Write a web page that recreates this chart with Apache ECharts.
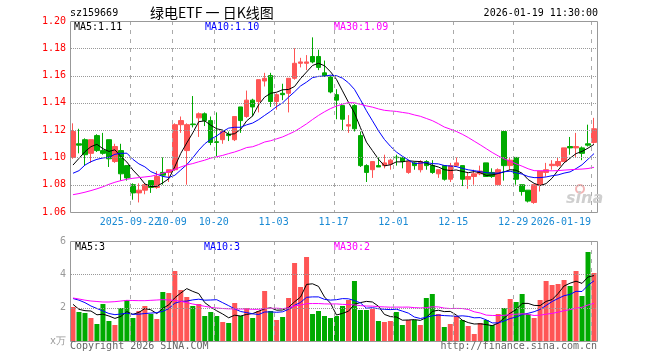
<!DOCTYPE html>
<html>
<head>
<meta charset="utf-8">
<script src="https://cdn.jsdelivr.net/npm/echarts@6/dist/echarts.min.js"></script>
<style>html,body{margin:0;padding:0;background:#fff}#c{width:660px;height:360px}</style>
</head>
<body>
<div id="c"></div>
<script>
// ---- categories (trading days) ----
const dates = [].concat(
  ['08','09','10','11','12','15','16','17','18','19','22','23','24','25','26','29','30'].map(d => '2025-09-' + d),
  ['09','10','13','14','15','16','17','20','21','22','23','24','27','28','29','30','31'].map(d => '2025-10-' + d),
  ['03','04','05','06','07','10','11','12','13','14','17','18','19','20','21','24','25','26','27','28'].map(d => '2025-11-' + d),
  ['01','02','03','04','05','08','09','10','11','12','15','16','17','18','19','22','23','24','25','26','29','30','31'].map(d => '2025-12-' + d),
  ['05','06','07','08','09','12','13','14','15','16','19'].map(d => '2026-01-' + d)
);
const tickDates = ['2025-09-22','2025-10-09','2025-10-20','2025-11-03','2025-11-17','2025-12-01','2025-12-15','2025-12-29','2026-01-19'];
const tickLabels = ['2025-09-22','10-09','10-20','11-03','11-17','12-01','12-15','12-29','2026-01-19'];
const priceGridTicks = [1.08, 1.10, 1.12, 1.14, 1.16, 1.18];
const volGridTicks = [2, 4];

// ---- price series ----
const opens = [1.100,1.110,1.113,1.103,1.116,1.105,1.113,1.097,1.105,1.094,
  1.080,1.074,1.076,1.083,1.078,1.089,1.089,1.091,1.124,1.105,
  1.1245,1.129,1.132,1.127,1.1115,1.113,1.117,1.113,1.137,1.130,
  1.142,1.141,1.156,1.160,1.141,1.147,1.147,1.158,1.169,1.169,
  1.174,1.174,1.162,1.159,1.146,1.138,1.123,1.138,1.116,1.094,
  1.091,1.094,1.094,1.095,1.1002,1.100,1.089,1.096,1.091,1.097,
  1.094,1.088,1.094,1.084,1.094,1.094,1.084,1.086,1.088,1.096,
  1.089,1.080,1.119,1.094,1.100,1.080,1.076,1.067,1.080,1.089,
  1.094,1.094,1.097,1.108,1.107,1.107,1.110,1.111];
const closes = [1.119,1.109,1.102,1.113,1.105,1.103,1.099,1.108,1.088,1.085,
  1.074,1.076,1.080,1.078,1.086,1.087,1.091,1.124,1.127,1.124,
  1.124,1.132,1.127,1.111,1.111,1.119,1.116,1.130,1.127,1.142,
  1.137,1.157,1.158,1.141,1.146,1.146,1.158,1.169,1.170,1.170,
  1.170,1.166,1.160,1.148,1.142,1.128,1.124,1.121,1.094,1.089,
  1.097,1.093,1.096,1.098,1.0998,1.097,1.097,1.094,1.097,1.094,
  1.089,1.091,1.084,1.094,1.096,1.084,1.086,1.088,1.090,1.086,
  1.086,1.091,1.094,1.098,1.084,1.075,1.068,1.080,1.090,1.091,
  1.095,1.097,1.107,1.107,1.108,1.103,1.109,1.121];
const lows = [1.099,1.103,1.094,1.096,1.104,1.102,1.093,1.096,1.083,1.083,
  1.069,1.067,1.073,1.074,1.077,1.080,1.082,1.090,1.118,1.080,
  1.122,1.115,1.123,1.109,1.101,1.110,1.112,1.112,1.118,1.129,
  1.130,1.133,1.152,1.137,1.135,1.142,1.133,1.157,1.166,1.164,
  1.169,1.164,1.159,1.147,1.128,1.120,1.118,1.119,1.093,1.082,
  1.085,1.093,1.092,1.091,1.094,1.092,1.088,1.091,1.089,1.091,
  1.088,1.085,1.083,1.082,1.093,1.079,1.077,1.080,1.087,1.086,
  1.085,1.080,1.083,1.091,1.080,1.072,1.067,1.066,1.075,1.086,
  1.091,1.093,1.097,1.102,1.100,1.098,1.108,1.110];
const highs = [1.125,1.121,1.114,1.113,1.117,1.118,1.113,1.110,1.110,1.094,
  1.081,1.081,1.081,1.083,1.090,1.100,1.091,1.125,1.130,1.125,
  1.145,1.133,1.133,1.130,1.133,1.119,1.119,1.130,1.137,1.149,
  1.143,1.157,1.162,1.162,1.147,1.154,1.158,1.180,1.173,1.175,
  1.188,1.179,1.171,1.160,1.150,1.138,1.131,1.139,1.119,1.095,
  1.097,1.100,1.102,1.099,1.102,1.100,1.098,1.097,1.098,1.098,
  1.098,1.091,1.094,1.096,1.100,1.094,1.089,1.091,1.094,1.096,
  1.092,1.092,1.119,1.100,1.100,1.080,1.076,1.080,1.090,1.096,
  1.098,1.100,1.107,1.115,1.118,1.108,1.124,1.129];

// ---- volume (x万) ----
const volumes = [2.04,1.74,1.68,1.38,1.02,2.22,1.2,0.96,1.98,2.46,
  1.38,1.8,2.1,1.62,1.32,2.94,2.88,4.2,3.06,2.64,
  2.1,2.22,1.5,1.74,1.5,1.14,1.08,2.28,1.5,1.98,
  1.38,1.8,3.0,1.8,1.26,1.44,2.58,4.68,3.24,5.04,
  1.62,1.8,1.5,1.38,1.5,2.1,2.46,3.6,1.86,1.86,
  1.92,1.2,1.14,1.2,1.74,0.96,1.26,1.26,0.96,2.58,
  2.82,1.62,0.84,1.02,1.5,1.26,0.9,0.42,1.08,1.26,
  0.96,1.62,1.98,2.52,2.34,2.82,1.62,1.38,2.46,3.6,
  3.36,3.42,3.66,3.3,4.2,2.7,5.34,4.08];

const priceMa5Lead = [1.0944,1.0993,1.1042,1.1079];
const priceMa10Lead = [1.0884,1.0903,1.0944,1.0969,1.0986,1.0996,1.1001,1.1023,1.1030];
const priceMa30Lead = [1.0727,1.0735,1.0745,1.0757,1.0770,1.0785,1.0803,1.0818,1.0830,1.0840,
  1.0847,1.0852,1.0857,1.0862,1.0872,1.0884,1.0898,1.0912,1.0930,1.0945,
  1.0955,1.0968,1.0980,1.0995,1.1005,1.1015,1.1028,1.1040,1.1055];
const volMa5Lead = [2.2,1.9,1.82,1.8];
const volMa10Lead = [2.55,2.45,2.3,2.1,1.95,1.8,1.65,1.58,1.62];
const volMa30Lead = [2.58,2.52,2.45,2.4,2.37,2.34,2.34,2.36,2.4,2.44,
  2.43,2.42,2.42,2.44,2.46,2.48,2.46,2.44,2.38,2.3,
  2.22,2.15,2.08,2.02,1.98,1.95,1.93,1.92,1.92];

function movingAvg(vals, n, lead) {
  return vals.map((v, i) => {
    if (i < n - 1) return lead[i];
    let s = 0;
    for (let k = i - n + 1; k <= i; k++) s += vals[k];
    return s / n;
  });
}
const pMa5 = movingAvg(closes, 5, priceMa5Lead);
const pMa10 = movingAvg(closes, 10, priceMa10Lead);
const pMa30 = movingAvg(closes, 30, priceMa30Lead);
const vMa5 = movingAvg(volumes, 5, volMa5Lead);
const vMa10 = movingAvg(volumes, 10, volMa10Lead);
const vMa30 = movingAvg(volumes, 30, volMa30Lead);

const RED = '#ff5555', GREEN = '#00aa00';
const MONO = '"DejaVu Sans Mono", "Liberation Mono", monospace';
const F10 = '10px ' + MONO;
const candleData = dates.map((d, i) => [opens[i], closes[i], lows[i], highs[i]]);
const volData = volumes.map((v, i) => ({ value: v, itemStyle: { color: closes[i] > opens[i] ? RED : GREEN } }));
const last = a => a[a.length - 1];

// layout
const G1 = { left: 70, top: 21, width: 527, height: 191 };
const G2 = { left: 70, top: 241, width: 527, height: 100 };

function lineSeries(data, color, xi, yi) {
  return { type: 'line', data, xAxisIndex: xi, yAxisIndex: yi, symbol: 'none', smooth: false,
    lineStyle: { color, width: 1 }, itemStyle: { color }, silent: true, z: 5 };
}
function txt(text, x, y, fill, align, font) {
  return { type: 'text', x, y, silent: true, z: 100,
    style: { text, fill, font: font || F10, textAlign: align || 'left', textVerticalAlign: 'middle' } };
}
function frame(g) {
  return { type: 'rect', silent: true, z: 50,
    shape: { x: g.left + 0.5, y: g.top + 0.5, width: g.width, height: g.height },
    style: { fill: 'none', stroke: '#999999', lineWidth: 1 } };
}
function seg(x1, y1, x2, y2, color) {
  return { type: 'line', silent: true, z: 40, shape: { x1, y1, x2, y2 },
    style: { stroke: color, lineWidth: 1, fill: 'none' } };
}

const chart = echarts.init(document.getElementById('c'), null, { renderer: 'canvas' });
chart.setOption({
  animation: false,
  backgroundColor: '#ffffff',
  grid: [Object.assign({ show: false }, G1), Object.assign({ show: false }, G2)],
  xAxis: [
    { type: 'category', gridIndex: 0, data: dates, boundaryGap: true,
      axisLine: { show: false }, axisTick: { show: false }, axisLabel: { show: false }, splitLine: { show: false } },
    { type: 'category', gridIndex: 1, data: dates, boundaryGap: true,
      axisLine: { show: false }, axisTick: { show: false }, axisLabel: { show: false }, splitLine: { show: false } }
  ],
  yAxis: [
    { type: 'value', gridIndex: 0, min: 1.06, max: 1.20, interval: 0.02,
      axisLine: { show: false }, axisTick: { show: false },
      axisLabel: { color: '#ff0000', fontFamily: MONO, fontSize: 10, margin: 4, formatter: v => v.toFixed(2) },
      splitLine: { show: false } },
    { type: 'value', gridIndex: 1, min: 0, max: 6, interval: 2,
      axisLine: { show: false }, axisTick: { show: false },
      axisLabel: { color: '#999999', fontFamily: MONO, fontSize: 10, margin: 4,
        formatter: v => v === 0 ? 'x万' : String(v) },
      splitLine: { show: false } }
  ],
  series: [
    { type: 'candlestick', data: candleData, xAxisIndex: 0, yAxisIndex: 0, barWidth: 5, silent: true,
      itemStyle: { color: RED, color0: GREEN, borderColor: RED, borderColor0: GREEN, borderWidth: 1 } },
    lineSeries(pMa5, '#000000', 0, 0),
    lineSeries(pMa10, '#0000ff', 0, 0),
    lineSeries(pMa30, '#ff00ff', 0, 0),
    { type: 'bar', data: volData, xAxisIndex: 1, yAxisIndex: 1, barWidth: 5, silent: true },
    lineSeries(vMa5, '#000000', 1, 1),
    lineSeries(vMa10, '#0000ff', 1, 1),
    lineSeries(vMa30, '#ff00ff', 1, 1)
  ]
});

// decorations: grid lines (dash / dot pieces), frames, texts
const band = G1.width / dates.length;
const graphics = [];
function vGrid(x, g) {
  const xs = x + 0.5;
  for (let y = g.top; y < g.top + g.height; y += 9) graphics.push(seg(xs, y, xs, Math.min(y + 4, g.top + g.height), '#aaaaaa'));
}
function hGrid(y, g) {
  const ys = y + 0.5;
  for (let x = g.left + 1; x < g.left + g.width; x += 2) graphics.push(seg(x, ys, x + 1, ys, '#999999'));
}
tickDates.forEach(d => {
  const xi = Math.round(chart.convertToPixel({ xAxisIndex: 0 }, d) - band / 2);
  vGrid(xi, G1);
  vGrid(xi, G2);
});
priceGridTicks.forEach(v => hGrid(Math.round(chart.convertToPixel({ yAxisIndex: 0 }, v)), G1));
volGridTicks.forEach(v => hGrid(Math.round(chart.convertToPixel({ yAxisIndex: 1 }, v)), G2));
tickDates.forEach((d, k) => {
  const x = chart.convertToPixel({ xAxisIndex: 0 }, d) - band / 2;
  const isLast = k === tickDates.length - 1;
  graphics.push(txt(tickLabels[k], x, G1.top + G1.height + 10, '#1a8ad4', isLast ? 'right' : 'center'));
});
graphics.push(
  frame(G1), frame(G2),
  txt('sz159669', 70, 13, '#000000'),
  txt('绿电ETF 一 日K线图', 150, 13, '#000000', 'left', '14px "Noto Sans CJK SC", sans-serif'),
  txt('2026-01-19 11:30:00', 598, 13, '#000000', 'right'),
  txt('MA5:' + last(pMa5).toFixed(2), 74, 27, '#000000'),
  txt('MA10:' + last(pMa10).toFixed(2), 205, 27, '#0000ff'),
  txt('MA30:' + last(pMa30).toFixed(2), 334, 27, '#ff00ff'),
  txt('MA5:' + Math.floor(last(vMa5)), 75, 247, '#000000'),
  txt('MA10:' + Math.floor(last(vMa10)), 204, 247, '#0000ff'),
  txt('MA30:' + Math.floor(last(vMa30)), 334, 247, '#ff00ff'),
  txt('Copyright 2026 SINA.COM', 70, 346, '#666666'),
  txt('http://finance.sina.com.cn', 597, 346, '#666666', 'right'),
  { type: 'circle', shape: { cx: 580, cy: 189, r: 4 }, silent: true, z: 1,
    style: { fill: 'none', stroke: '#f2b4b4', lineWidth: 2 } },
  txt('sina', 566, 199, '#cfcfcf', 'left', 'italic bold 16px "DejaVu Sans", sans-serif')
);
chart.setOption({ graphic: graphics });
</script>
</body>
</html>
